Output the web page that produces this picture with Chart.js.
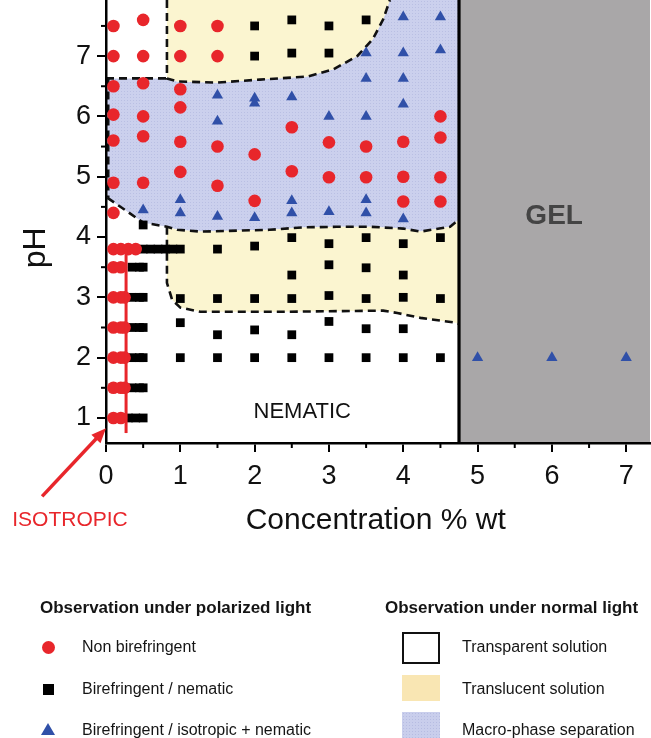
<!DOCTYPE html>
<html><head><meta charset="utf-8">
<script src="https://cdn.jsdelivr.net/npm/chart.js@4.4.1/dist/chart.umd.min.js"></script>
<style>
html,body{margin:0;padding:0;background:#fff;}
#wrap{position:relative;width:651px;height:738px;overflow:hidden;background:#fff;}
canvas{position:absolute;left:0;top:0;}
.leg{position:absolute;font-family:"Liberation Sans",Arial,sans-serif;color:#151515;white-space:nowrap;font-size:16px;line-height:20px;}
.hd{font-weight:bold;font-size:17px;}
.mk{position:absolute;}
</style></head><body>
<div id="wrap">
<canvas id="c" width="651" height="738"></canvas>
<div class="leg hd" style="left:40px;top:598px;">Observation under polarized light</div>
<div class="leg hd" style="left:385px;top:598px;">Observation under normal light</div>
<div class="mk" style="left:42px;top:641px;width:13px;height:13px;border-radius:50%;background:#e8262b;"></div>
<div class="mk" style="left:43px;top:684px;width:11px;height:11px;background:#000;"></div>
<div class="mk" style="left:41px;top:723px;width:0;height:0;border-left:7px solid transparent;border-right:7px solid transparent;border-bottom:12px solid #3050a8;"></div>
<div class="leg" style="left:82px;top:637px;">Non birefringent</div>
<div class="leg" style="left:82px;top:679px;">Birefringent / nematic</div>
<div class="leg" style="left:82px;top:720px;">Birefringent / isotropic + nematic</div>
<div class="mk" style="left:402px;top:632px;width:34px;height:28px;border:2px solid #111;background:#fff;"></div>
<div class="mk" style="left:402px;top:675px;width:38px;height:26px;background:#f9e6b3;"></div>
<div class="mk" style="left:402px;top:712px;width:38px;height:26px;background-color:#c9ceec;background-image:radial-gradient(#b6bce2 0.8px, transparent 1px);background-size:3px 3px;"></div>
<div class="leg" style="left:462px;top:637px;">Transparent solution</div>
<div class="leg" style="left:462px;top:679px;">Translucent solution</div>
<div class="leg" style="left:462px;top:720px;">Macro-phase separation</div>
</div>
<script>
// ---- data ----
const xTicks = [0, 1, 2, 3, 4, 5, 6, 7];
const yTicks = [1, 2, 3, 4, 5, 6, 7];

const nonBirefringent = [
  [0.1,7.5],[0.5,7.6],[1.0,7.5],[1.5,7.5],
  [0.1,7.0],[0.5,7.0],[1.0,7.0],[1.5,7.0],
  [0.1,6.5],[0.5,6.55],[1.0,6.45],
  [0.1,6.03],[0.5,6.0],[1.0,6.15],
  [0.1,5.6],[0.5,5.67],[1.0,5.58],[1.5,5.5],[2.0,5.37],[2.5,5.82],
  [3.0,5.57],[3.5,5.5],[4.0,5.58],[4.5,6.0],[4.5,5.65],
  [1.0,5.08],[0.1,4.9],[0.5,4.9],[1.5,4.85],[2.0,4.6],[0.1,4.4],
  [2.5,5.09],[3.0,4.99],[3.5,4.99],[4.0,5.0],[4.5,4.99],[4.0,4.59],[4.5,4.59],
  // isotropic column
  [0.1,3.8],[0.2,3.8],[0.3,3.8],[0.4,3.8],
  [0.1,3.5],[0.2,3.5],
  [0.1,3.0],[0.2,3.0],[0.25,3.0],
  [0.1,2.5],[0.2,2.5],[0.25,2.5],
  [0.1,2.0],[0.2,2.0],[0.25,2.0],
  [0.1,1.5],[0.2,1.5],[0.25,1.5],
  [0.1,1.0],[0.2,1.0]
];

const birefringentNematic = [
  [2.0,7.5],[2.5,7.6],[3.0,7.5],[3.5,7.6],[2.0,7.0],[2.5,7.05],[3.0,7.05],
  [0.5,4.2],
  [0.5,3.8],[0.6,3.8],[0.7,3.8],[0.8,3.8],[0.9,3.8],[1.0,3.8],
  [1.5,3.8],[2.0,3.85],[2.5,3.99],[3.0,3.89],[3.5,3.99],[4.0,3.89],[4.5,3.99],
  [3.0,3.54],[3.5,3.49],[2.5,3.37],[4.0,3.37],
  [1.0,2.98],[1.5,2.98],[2.0,2.98],[2.5,2.98],[3.0,3.03],[3.5,2.98],[4.0,3.0],[4.5,2.98],
  [1.0,2.58],[1.5,2.38],[2.0,2.46],[2.5,2.38],[3.0,2.6],[3.5,2.48],[4.0,2.48],
  [1.0,2.0],[1.5,2.0],[2.0,2.0],[2.5,2.0],[3.0,2.0],[3.5,2.0],[4.0,2.0],[4.5,2.0],
  // nematic bars next to the isotropic column
  [0.35,3.5],[0.45,3.5],[0.5,3.5],
  [0.35,3.0],[0.45,3.0],[0.5,3.0],
  [0.35,2.5],[0.45,2.5],[0.5,2.5],
  [0.35,2.0],[0.45,2.0],[0.5,2.0],
  [0.35,1.5],[0.45,1.5],[0.5,1.5],
  [0.3,1.0],[0.4,1.0],[0.5,1.0]
];

const birefringentIsoNematic = [
  [4.0,7.65],[4.5,7.65],[3.5,7.05],[4.0,7.05],[4.5,7.1],[3.5,6.63],[4.0,6.63],
  [2.5,6.32],[4.0,6.2],[3.0,6.0],[3.5,6.0],
  [1.5,6.35],[2.0,6.3],[2.0,6.22],[1.5,5.92],
  [0.5,4.45],[1.0,4.62],[1.0,4.4],[1.5,4.34],[2.0,4.32],
  [2.5,4.6],[2.5,4.4],[3.0,4.42],[3.5,4.62],[3.5,4.4],[4.0,4.3],
  [5.0,2.0],[6.0,2.0],[7.0,2.0]
];

// region boundaries (concentration, pH)
const upperTranslucentEdge = [[0.82,7.93],[0.82,6.63],[0.96,6.58],[1.49,6.56],[2.07,6.61],[2.71,6.66],[3.06,6.78],[3.38,7.0],[3.59,7.28],[3.73,7.61],[3.82,7.93]];
const leftSeparationEdge = [[0.0,6.63],[0.82,6.63]];
const separationLowerEdge = [[0.02,4.65],[0.5,4.24],[0.82,4.17],[0.96,4.12],[1.27,4.09],[2.2,4.12],[2.65,4.16],[3.1,4.17],[3.55,4.17],[4.0,4.14],[4.23,4.09],[4.63,4.17],[4.7,4.24],[4.75,4.29]];
const lowerTranslucentEdge = [[0.82,4.17],[0.82,3.24],[0.89,2.96],[1.0,2.83],[1.27,2.76],[2.34,2.76],[3.73,2.78],[3.92,2.74],[4.23,2.66],[4.7,2.58],[4.75,2.56]];
const separationLeftEdge = [[0.03,6.63],[0.03,4.65]];
const gelBoundary = 4.75;
const isotropicLine = [[0.27,3.8],[0.27,0.75]];
const isotropicArrow = [[-0.86,-0.3],[0.0,0.83]];

const X_MIN = 0, X_MAX = 7.32, Y_MIN = 0.585, Y_MAX = 7.93;

const toPts = a => a.map(p => ({x:p[0], y:p[1]}));

function makePattern(ctx){
  const pc = document.createElement('canvas');
  pc.width = 3; pc.height = 3;
  const g = pc.getContext('2d');
  g.fillStyle = '#cbd0ed'; g.fillRect(0,0,3,3);
  g.fillStyle = '#b9bfe3'; g.fillRect(1,1,1,1);
  return ctx.createPattern(pc, 'repeat');
}

const regionsPlugin = {
  id: 'regions',
  beforeDraw(chart){
    const {ctx, chartArea:ca, scales:{x, y}} = chart;
    const P = p => [x.getPixelForValue(p[0]), y.getPixelForValue(p[1])];
    ctx.save();
    ctx.fillStyle = '#fff';
    ctx.fillRect(0,0,chart.width,chart.height);
    ctx.beginPath(); ctx.rect(ca.left, ca.top, ca.right-ca.left, ca.bottom-ca.top); ctx.clip();

    // macro-phase separation (blue)
    ctx.beginPath();
    let pts = [[0,6.63]].concat(upperTranslucentEdge.slice(1), [[gelBoundary,Y_MAX]], separationLowerEdge.slice().reverse());
    pts.forEach((p,i)=>{const q=P(p); i?ctx.lineTo(q[0],q[1]):ctx.moveTo(q[0],q[1]);});
    ctx.closePath();
    ctx.fillStyle = makePattern(ctx); ctx.fill();

    // translucent (yellow) upper
    ctx.beginPath();
    upperTranslucentEdge.forEach((p,i)=>{const q=P(p); i?ctx.lineTo(q[0],q[1]):ctx.moveTo(q[0],q[1]);});
    ctx.closePath();
    ctx.fillStyle = '#fbf5d0'; ctx.fill();

    // translucent lower
    ctx.beginPath();
    lowerTranslucentEdge.forEach((p,i)=>{const q=P(p); i?ctx.lineTo(q[0],q[1]):ctx.moveTo(q[0],q[1]);});
    separationLowerEdge.filter(p=>p[0]>0.82).reverse().forEach(p=>{const q=P(p); ctx.lineTo(q[0],q[1]);});
    ctx.closePath();
    ctx.fillStyle = '#fbf5d0'; ctx.fill();

    // gel
    const gx = x.getPixelForValue(gelBoundary);
    ctx.fillStyle = '#a9a7a8';
    ctx.fillRect(gx, ca.top, ca.right-gx+2, ca.bottom-ca.top);

    // dashed boundaries
    ctx.strokeStyle = '#111'; ctx.lineWidth = 2.6; ctx.setLineDash([8,5]);
    [upperTranslucentEdge, leftSeparationEdge, separationLowerEdge, lowerTranslucentEdge, separationLeftEdge].forEach(line=>{
      ctx.beginPath();
      line.forEach((p,i)=>{const q=P(p); i?ctx.lineTo(q[0],q[1]):ctx.moveTo(q[0],q[1]);});
      ctx.stroke();
    });
    ctx.setLineDash([]);

    // gel boundary line
    ctx.lineWidth = 3.2; ctx.strokeStyle = '#000';
    ctx.beginPath(); ctx.moveTo(gx, ca.top); ctx.lineTo(gx, ca.bottom); ctx.stroke();

    // labels
    ctx.fillStyle = '#444';
    ctx.font = 'bold 28px "Liberation Sans", Arial, sans-serif';
    ctx.textAlign = 'center'; ctx.textBaseline = 'middle';
    ctx.fillText('GEL', x.getPixelForValue(6.03), y.getPixelForValue(4.35));
    ctx.fillStyle = '#111';
    ctx.font = '22px "Liberation Sans", Arial, sans-serif';
    ctx.fillText('NEMATIC', x.getPixelForValue(2.64), y.getPixelForValue(1.1));
    ctx.restore();
  },
  afterDatasetsDraw(chart){
    const {ctx, scales:{x, y}} = chart;
    const P = p => [x.getPixelForValue(p[0]), y.getPixelForValue(p[1])];
    ctx.save();
    ctx.strokeStyle = '#e8262b'; ctx.lineWidth = 3;
    const a = P(isotropicLine[0]), b = P(isotropicLine[1]);
    ctx.beginPath(); ctx.moveTo(a[0],a[1]); ctx.lineTo(b[0],b[1]); ctx.stroke();
    ctx.restore();
  },
  afterDraw(chart){
    const {ctx, chartArea:ca, scales:{x, y}} = chart;
    const P = p => [x.getPixelForValue(p[0]), y.getPixelForValue(p[1])];
    ctx.save();
    // minor ticks
    ctx.strokeStyle = '#000'; ctx.lineWidth = 2;
    for (let v = 0.5; v < X_MAX; v += 1) {
      const px = x.getPixelForValue(v);
      ctx.beginPath(); ctx.moveTo(px, ca.bottom); ctx.lineTo(px, ca.bottom+5); ctx.stroke();
    }
    for (let v = 1.5; v < Y_MAX; v += 1) {
      const py = y.getPixelForValue(v);
      ctx.beginPath(); ctx.moveTo(ca.left, py); ctx.lineTo(ca.left-5, py); ctx.stroke();
    }
    // arrow
    const s = P(isotropicArrow[0]), e = P(isotropicArrow[1]);
    ctx.strokeStyle = '#e8262b'; ctx.fillStyle = '#e8262b'; ctx.lineWidth = 3.5;
    const ang = Math.atan2(e[1]-s[1], e[0]-s[0]);
    const back = [e[0]-12*Math.cos(ang), e[1]-12*Math.sin(ang)];
    ctx.beginPath(); ctx.moveTo(s[0],s[1]); ctx.lineTo(back[0],back[1]); ctx.stroke();
    ctx.beginPath();
    ctx.moveTo(e[0],e[1]);
    ctx.lineTo(e[0]-16*Math.cos(ang-0.4), e[1]-16*Math.sin(ang-0.4));
    ctx.lineTo(e[0]-16*Math.cos(ang+0.4), e[1]-16*Math.sin(ang+0.4));
    ctx.closePath(); ctx.fill();
    ctx.font = '21px "Liberation Sans", Arial, sans-serif';
    ctx.textAlign = 'center'; ctx.textBaseline = 'middle';
    ctx.fillText('ISOTROPIC', ca.left - 36, ca.bottom + 77);
    // axis titles
    ctx.fillStyle = '#111';
    ctx.font = '30px "Liberation Sans", Arial, sans-serif';
    ctx.fillText('Concentration % wt', x.getPixelForValue(3.63), ca.bottom + 78);
    ctx.translate(36, y.getPixelForValue(3.82));
    ctx.rotate(-Math.PI/2);
    ctx.font = '32px "Liberation Sans", Arial, sans-serif';
    ctx.fillText('pH', 0, 0);
    ctx.restore();
  }
};

new Chart(document.getElementById('c'), {
  type: 'scatter',
  data: {
    datasets: [
      {label:'Non birefringent', data: toPts(nonBirefringent), pointStyle:'circle', pointRadius:6.3, backgroundColor:'#e8262b', borderWidth:0},
      {label:'Birefringent / nematic', data: toPts(birefringentNematic), pointStyle:'rect', pointRadius:6.2, backgroundColor:'#000', borderWidth:0},
      {label:'Birefringent / isotropic + nematic', data: toPts(birefringentIsoNematic), pointStyle:'triangle', pointRadius:6.5, backgroundColor:'#3050a8', borderWidth:0}
    ]
  },
  options: {
    responsive: false, animation: false, devicePixelRatio: 1,
    layout: {autoPadding: false, padding: {top: 0, right: 1, bottom: 0, left: 0}},
    plugins: {legend:{display:false}, tooltip:{enabled:false}},
    scales: {
      x: {
        type:'linear', min:X_MIN, max:X_MAX,
        afterBuildTicks: s => { s.ticks = xTicks.map(v=>({value:v})); },
        afterFit: s => { s.height = 295; s.paddingLeft = 0; s.paddingRight = 0; },
        grid: {drawOnChartArea:false, drawTicks:true, tickLength:9, tickColor:'#000', lineWidth:2},
        border: {display:true, color:'#000', width:2.5},
        ticks: {padding:8, color:'#111', font:{family:'"Liberation Sans", Arial, sans-serif', size:27}, maxRotation:0, autoSkip:false}
      },
      y: {
        type:'linear', min:Y_MIN, max:Y_MAX,
        afterBuildTicks: s => { s.ticks = yTicks.map(v=>({value:v})); },
        afterFit: s => { s.width = 106; s.paddingTop = 0; s.paddingBottom = 0; },
        grid: {drawOnChartArea:false, drawTicks:true, tickLength:9, tickColor:'#000', lineWidth:2},
        border: {display:true, color:'#000', width:2.5},
        ticks: {padding:6, color:'#111', font:{family:'"Liberation Sans", Arial, sans-serif', size:27}, autoSkip:false}
      }
    }
  },
  plugins: [regionsPlugin]
});
</script>
</body></html>
